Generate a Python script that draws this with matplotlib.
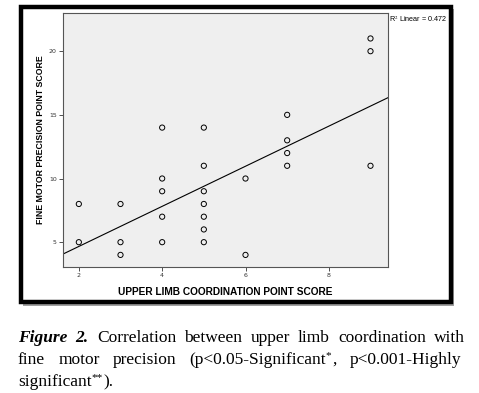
import numpy as np
import matplotlib.pyplot as plt
from matplotlib.patches import Rectangle

# upper limb coordination score (x) vs fine motor precision score (y)
upper_limb = [2, 2, 3, 3, 3, 4, 4, 4, 4, 4, 5, 5, 5, 5, 5, 5, 5, 6, 6, 7, 7, 7, 7, 9, 9, 9]
fine_motor = [8, 5, 8, 5, 4, 14, 10, 9, 7, 5, 14, 11, 9, 8, 7, 6, 5, 10, 4, 15, 13, 12, 11, 21, 20, 11]
x_ticks = [2, 4, 6, 8]
y_ticks = [5, 10, 15, 20]
r2_label = "R$^2$ Linear = 0.472"

W, H = 479, 393
fig = plt.figure(figsize=(W / 100, H / 100), dpi=100)
fig.patch.set_facecolor("white")
plt.rcParams["mathtext.fontset"] = "stix"


def px(x, y):
    return x / W, 1 - y / H


# outer framed box with shadow
fig.patches.append(Rectangle(px(23, 306), 431 / W, 297 / H, transform=fig.transFigure,
                             facecolor="#a0a0a0", edgecolor="none", zorder=0))
fig.patches.append(Rectangle(px(21, 302), 430 / W, 295 / H, transform=fig.transFigure,
                             facecolor="white", edgecolor="black", linewidth=3.2, zorder=1))

ax = fig.add_axes([63 / W, 1 - 267 / H, 325 / W, 254 / H], zorder=2)
ax.set_facecolor("#efefef")
ax.scatter(upper_limb, fine_motor, s=14, facecolors="none", edgecolors="black",
           linewidths=0.7, zorder=3)

slope, intercept = np.polyfit(upper_limb, fine_motor, 1)
xl = np.array([1.62, 9.42])
ax.plot(xl, slope * xl + intercept, color="black", linewidth=0.8, zorder=2)

ax.set_xlim(1.62, 9.42)
ax.set_ylim(3.05, 23.0)
ax.set_xticks(x_ticks)
ax.set_yticks(y_ticks)
ax.tick_params(labelsize=4.5, length=3, width=0.6, pad=1.5, colors="#333333")
for s in ax.spines.values():
    s.set_color("#555555")
    s.set_linewidth(0.8)

ax.set_xlabel("UPPER LIMB COORDINATION POINT SCORE", family="Liberation Sans",
              fontweight="bold", fontsize=7.3, labelpad=6)
ax.set_ylabel("FINE MOTOR PRECISION POINT SCORE", family="Liberation Sans",
              fontweight="bold", fontsize=6.3, labelpad=3)

fig.text(*px(389, 19), r2_label, family="Liberation Sans", fontsize=5.2,
         va="center", ha="left", zorder=3)

# justified caption: words as (text, style, superscript, tail)
serif = "Liberation Serif"
size = 12.5
lines = [
    ([("Figure", "bi", "", ""), ("2.", "bi", "", ""), ("Correlation", "", "", ""),
      ("between", "", "", ""), ("upper", "", "", ""), ("limb", "", "", ""),
      ("coordination", "", "", ""), ("with", "", "", "")], 342, 465),
    ([("fine", "", "", ""), ("motor", "", "", ""), ("precision", "", "", ""),
      ("(p<0.05-Significant", "", "*", ","), ("p<0.001-Highly", "", "", "")], 364, 461),
    ([("significant", "", "**", ")."), ], 386, None),
]
fig.canvas.draw()
renderer = fig.canvas.get_renderer()


def make(s, st, fs, yb):
    return fig.text(0, 1 - yb / H, s, family=serif, fontsize=fs, va="baseline",
                    fontweight="bold" if "b" in st else "normal",
                    fontstyle="italic" if "i" in st else "normal")


for words, base, right in lines:
    groups = []
    for w, st, sup, tail in words:
        parts = [(make(w, st, size, base), 0)]
        if sup:
            parts.append((make(sup, st, size * 0.65, base - 6), 0.5))
        if tail:
            parts.append((make(tail, st, size, base), 0))
        ws = [p.get_window_extent(renderer).width + k for p, k in parts]
        groups.append((parts, ws))
    totals = [sum(ws) for _, ws in groups]
    left = 18
    if right is None or len(groups) == 1:
        gap = 4
    else:
        gap = (right - left - sum(totals)) / (len(groups) - 1)
    x = left
    for (parts, ws), tot in zip(groups, totals):
        xx = x
        for (p, _), wd in zip(parts, ws):
            p.set_x(xx / W)
            xx += wd
        x += tot + gap

fig.savefig("out.png", dpi=100)
